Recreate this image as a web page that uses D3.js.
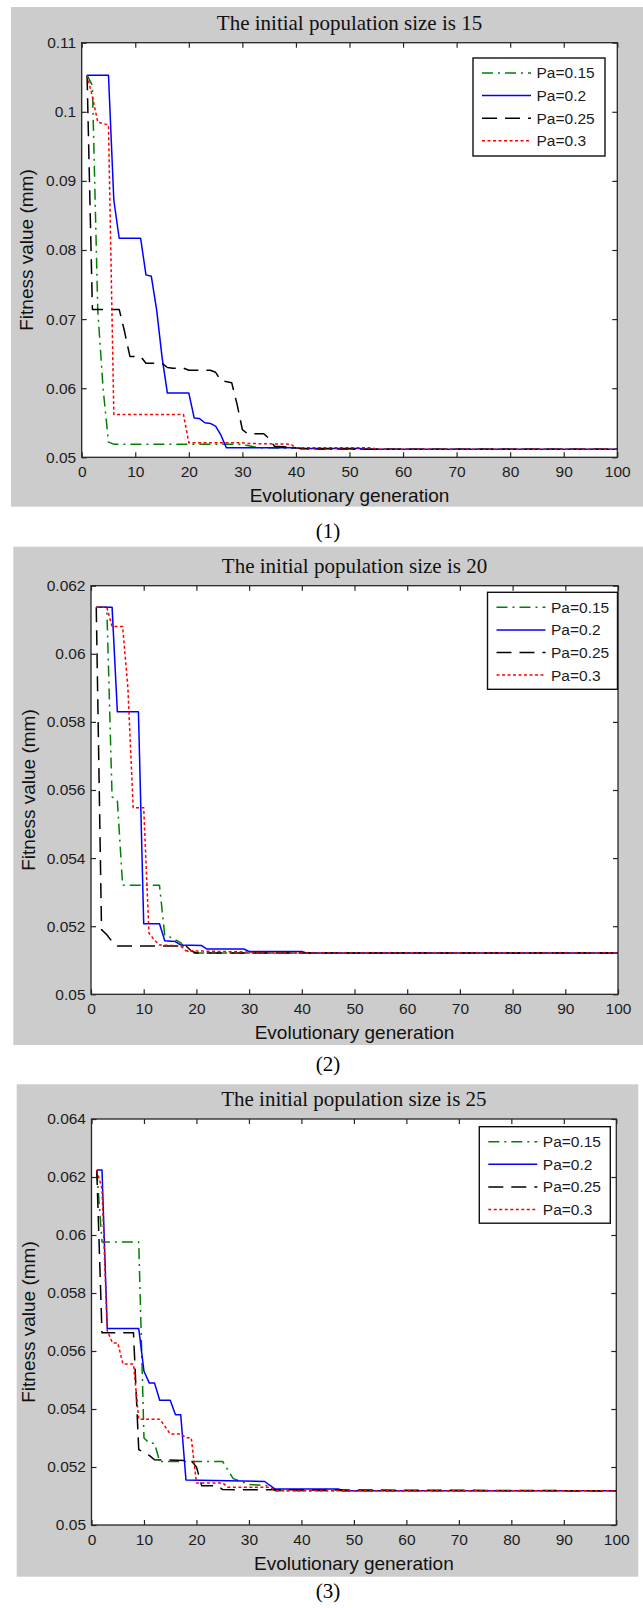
<!DOCTYPE html>
<html>
<head>
<meta charset="utf-8">
<script src="https://cdn.jsdelivr.net/npm/d3@7"></script>
<style>
  body { margin: 0; background: #fff; }
  svg { display: block; }
  .tick text { font-family: "Liberation Sans", Arial, sans-serif; font-size: 15.5px; fill: #1c1c1c; }
</style>
</head>
<body>
<svg id="fig" width="643" height="1608"></svg>
<script>
// categories
const seriesNames = ["Pa=0.15", "Pa=0.2", "Pa=0.25", "Pa=0.3"];
const popSizes = [15, 20, 25];
const captions = ["(1)", "(2)", "(3)"];

// ticks
const xTicks = [0, 10, 20, 30, 40, 50, 60, 70, 80, 90, 100];
const yTicks1 = [0.05, 0.06, 0.07, 0.08, 0.09, 0.1, 0.11];
const yLabels1 = ["0.05", "0.06", "0.07", "0.08", "0.09", "0.1", "0.11"];
const yTicks2 = [0.05, 0.052, 0.054, 0.056, 0.058, 0.06, 0.062];
const yLabels2 = ["0.05", "0.052", "0.054", "0.056", "0.058", "0.06", "0.062"];
const yTicks3 = [0.05, 0.052, 0.054, 0.056, 0.058, 0.06, 0.062, 0.064];
const yLabels3 = ["0.05", "0.052", "0.054", "0.056", "0.058", "0.06", "0.062", "0.064"];

// [generation, fitness] - population size 15
const size15_pa015 = [[1,0.1053],[2,0.1038],[3,0.0713],[4,0.0599],[5,0.0522],[6,0.0519],[29,0.0519],[31,0.0517],[33,0.0514],[40,0.0513],[45,0.05118],[100,0.05118]];
const size15_pa02 = [[1,0.1053],[5,0.1053],[6,0.0872],[7,0.0817],[11,0.0817],[12,0.0764],[13,0.0762],[14,0.0713],[15,0.0645],[16,0.0593],[20,0.0593],[21,0.0557],[22,0.0556],[23,0.0550],[24,0.0549],[25,0.0545],[26,0.0532],[27,0.0514],[40,0.0514],[41,0.05128],[52,0.05128],[53,0.05118],[100,0.05118]];
const size15_pa025 = [[1,0.1053],[2,0.0714],[7,0.0714],[8,0.0682],[9,0.0646],[11,0.0646],[12,0.0636],[15,0.0636],[16,0.0630],[17,0.0629],[19,0.0629],[20,0.0626],[24,0.0626],[25,0.0623],[26,0.0611],[28,0.0608],[29,0.0577],[30,0.0540],[31,0.0534],[34,0.0534],[35,0.0527],[36,0.0516],[40,0.0514],[41,0.05125],[50,0.05125],[51,0.05118],[100,0.05118]];
const size15_pa03 = [[1,0.1053],[2,0.1022],[3,0.0985],[5,0.0981],[6,0.0562],[19,0.0562],[20,0.0521],[30,0.0521],[31,0.0520],[39,0.0519],[40,0.0514],[54,0.0514],[55,0.05118],[100,0.05118]];

// population size 20
const size20_pa015 = [[1,0.06137],[3,0.06137],[4,0.0558],[5,0.0557],[6,0.0532],[13,0.0532],[14,0.05172],[15,0.05168],[17,0.05152],[18,0.0513],[19,0.05121],[100,0.05121]];
const size20_pa02 = [[1,0.06137],[4,0.06137],[5,0.0583],[9,0.0583],[10,0.05207],[13,0.05207],[14,0.05157],[16,0.05155],[17,0.05145],[21,0.05143],[22,0.05133],[29,0.05133],[30,0.05126],[40,0.05126],[41,0.05121],[100,0.05121]];
const size20_pa025 = [[1,0.06137],[2,0.0519],[3,0.05175],[4,0.05155],[5,0.05142],[18,0.05142],[19,0.05128],[20,0.05121],[100,0.05121]];
const size20_pa03 = [[1,0.06137],[3,0.06137],[4,0.0608],[6,0.0608],[7,0.0590],[8,0.05548],[10,0.05548],[11,0.0518],[12,0.0516],[13,0.05145],[17,0.05142],[18,0.05128],[30,0.05124],[31,0.05121],[100,0.05121]];

// population size 25
const size25_pa015 = [[1,0.06224],[2,0.05976],[9,0.05976],[10,0.0530],[11,0.05282],[12,0.05282],[13,0.05219],[25,0.05219],[27,0.0516],[30,0.0514],[34,0.05135],[35,0.05118],[100,0.05118]];
const size25_pa02 = [[1,0.06224],[2,0.06224],[3,0.05678],[9,0.05678],[10,0.0553],[11,0.0549],[12,0.0549],[13,0.0543],[15,0.0543],[16,0.0538],[17,0.0538],[18,0.05155],[33,0.0515],[35,0.05124],[47,0.05124],[48,0.05118],[100,0.05118]];
const size25_pa025 = [[1,0.06224],[2,0.05663],[8,0.05663],[9,0.0526],[10,0.0525],[11,0.0524],[12,0.05225],[19,0.05222],[20,0.0520],[21,0.05135],[24,0.05135],[25,0.05122],[100,0.05118]];
const size25_pa03 = [[1,0.06224],[2,0.0616],[3,0.0567],[4,0.05628],[5,0.05628],[6,0.05555],[8,0.05555],[9,0.05365],[13,0.05365],[14,0.0534],[15,0.05314],[17,0.05314],[18,0.05301],[19,0.05301],[20,0.05145],[25,0.05145],[26,0.0513],[34,0.0513],[35,0.05118],[100,0.05118]];

const panelData = [
  [size15_pa015, size15_pa02, size15_pa025, size15_pa03],
  [size20_pa015, size20_pa02, size20_pa025, size20_pa03],
  [size25_pa015, size25_pa02, size25_pa025, size25_pa03]
];
const panelTicks = [[yTicks1, yLabels1], [yTicks2, yLabels2], [yTicks3, yLabels3]];

// line styles (MATLAB '-.', '-', '--', ':')
const lineColors = ["#008000", "#0000ff", "#000000", "#ff0000"];
const lineDashes = ["11,5,2,5", null, "15,8", "3,2.5"];

// layout of each panel (pixels)
const layout = [
  { bg: [11, 7, 643, 506.7], plot: [81.7, 42.7, 617.3, 457.3], legend: [473, 58, 132, 98], ylabX: 26.7, capY: 531 },
  { bg: [13.3, 546.7, 643, 1045], plot: [91, 585.7, 618, 994.3], legend: [487.5, 592.3, 130, 97], ylabX: 28, capY: 1064 },
  { bg: [16.7, 1084.3, 638.3, 1576.7], plot: [91.5, 1119, 616.3, 1525], legend: [479.3, 1126.7, 131, 96.5], ylabX: 28.7, capY: 1591 }
];

const svg = d3.select("#fig");
const sans = '"Liberation Sans", Arial, sans-serif';
const serif = '"Liberation Serif", "Times New Roman", serif';
const axisColor = "#262626";

layout.forEach((L, p) => {
  const [yTicks, yLabels] = panelTicks[p];
  const [pl, pt, pr, pb] = L.plot;
  const g = svg.append("g");

  const x = d3.scaleLinear().domain([0, 100]).range([pl, pr]);
  const y = d3.scaleLinear().domain([yTicks[0], yTicks[yTicks.length - 1]]).range([pb, pt]);

  // grey figure background
  g.append("rect")
    .attr("x", L.bg[0]).attr("y", L.bg[1])
    .attr("width", L.bg[2] - L.bg[0]).attr("height", L.bg[3] - L.bg[1])
    .attr("fill", "#cccccc");

  // white axes area
  g.append("rect")
    .attr("x", pl).attr("y", pt)
    .attr("width", pr - pl).attr("height", pb - pt)
    .attr("fill", "#fff");

  // axes, ticks pointing inward on all four sides
  const bottomAxis = g.append("g")
    .attr("transform", `translate(0,${pb})`)
    .call(d3.axisBottom(x).tickValues(xTicks).tickFormat(d3.format("d"))
      .tickSizeInner(-5).tickSizeOuter(0).tickPadding(9));
  const topAxis = g.append("g")
    .attr("transform", `translate(0,${pt})`)
    .call(d3.axisTop(x).tickValues(xTicks).tickFormat("")
      .tickSizeInner(-5).tickSizeOuter(0));
  const leftAxis = g.append("g")
    .attr("transform", `translate(${pl},0)`)
    .call(d3.axisLeft(y).tickValues(yTicks).tickFormat((d, i) => yLabels[i])
      .tickSizeInner(-5).tickSizeOuter(0).tickPadding(5.5));
  const rightAxis = g.append("g")
    .attr("transform", `translate(${pr},0)`)
    .call(d3.axisRight(y).tickValues(yTicks).tickFormat("")
      .tickSizeInner(-5).tickSizeOuter(0));
  [bottomAxis, topAxis, leftAxis, rightAxis].forEach(a => {
    a.select(".domain").remove();
    a.selectAll(".tick line").attr("stroke", axisColor).attr("stroke-width", 1.2);
  });

  // curves
  const line = d3.line().x(d => x(d[0])).y(d => y(d[1]));
  panelData[p].forEach((pts, i) => {
    g.append("path")
      .datum(pts)
      .attr("d", line)
      .attr("fill", "none")
      .attr("stroke", lineColors[i])
      .attr("stroke-width", 1.5)
      .attr("stroke-dasharray", lineDashes[i])
      .attr("stroke-linejoin", "round");
  });

  // axes box
  g.append("rect")
    .attr("x", pl).attr("y", pt)
    .attr("width", pr - pl).attr("height", pb - pt)
    .attr("fill", "none")
    .attr("stroke", axisColor)
    .attr("stroke-width", 1.3);

  // legend
  const [lx, ly, lw, lh] = L.legend;
  const leg = g.append("g").attr("transform", `translate(${lx},${ly})`);
  leg.append("rect")
    .attr("width", lw).attr("height", lh)
    .attr("fill", "#fff")
    .attr("stroke", "#111")
    .attr("stroke-width", 1.4);
  seriesNames.forEach((name, i) => {
    const ry = 15 + i * 22.6;
    leg.append("line")
      .attr("x1", 9).attr("x2", 58)
      .attr("y1", ry).attr("y2", ry)
      .attr("stroke", lineColors[i])
      .attr("stroke-width", 1.5)
      .attr("stroke-dasharray", lineDashes[i]);
    leg.append("text")
      .attr("x", 63.5).attr("y", ry)
      .attr("dy", "0.35em")
      .attr("font-family", sans)
      .attr("font-size", 15.5)
      .attr("fill", "#1c1c1c")
      .text(name);
  });

  // title and axis labels
  g.append("text")
    .attr("x", (pl + pr) / 2).attr("y", pt - 20)
    .attr("dy", "0.35em")
    .attr("text-anchor", "middle")
    .attr("font-family", serif)
    .attr("font-size", 21)
    .attr("fill", "#111")
    .text(`The initial population size is ${popSizes[p]}`);

  g.append("text")
    .attr("x", (pl + pr) / 2).attr("y", pb + 38)
    .attr("dy", "0.35em")
    .attr("text-anchor", "middle")
    .attr("font-family", sans)
    .attr("font-size", 19)
    .attr("fill", "#111")
    .text("Evolutionary generation");

  g.append("text")
    .attr("transform", `translate(${L.ylabX},${(pt + pb) / 2}) rotate(-90)`)
    .attr("dy", "0.35em")
    .attr("text-anchor", "middle")
    .attr("font-family", sans)
    .attr("font-size", 19)
    .attr("fill", "#111")
    .text("Fitness value (mm)");

  // panel caption below
  svg.append("text")
    .attr("x", 328).attr("y", L.capY)
    .attr("dy", "0.35em")
    .attr("text-anchor", "middle")
    .attr("font-family", serif)
    .attr("font-size", 21)
    .attr("fill", "#000")
    .text(captions[p]);
});
</script>
</body>
</html>
